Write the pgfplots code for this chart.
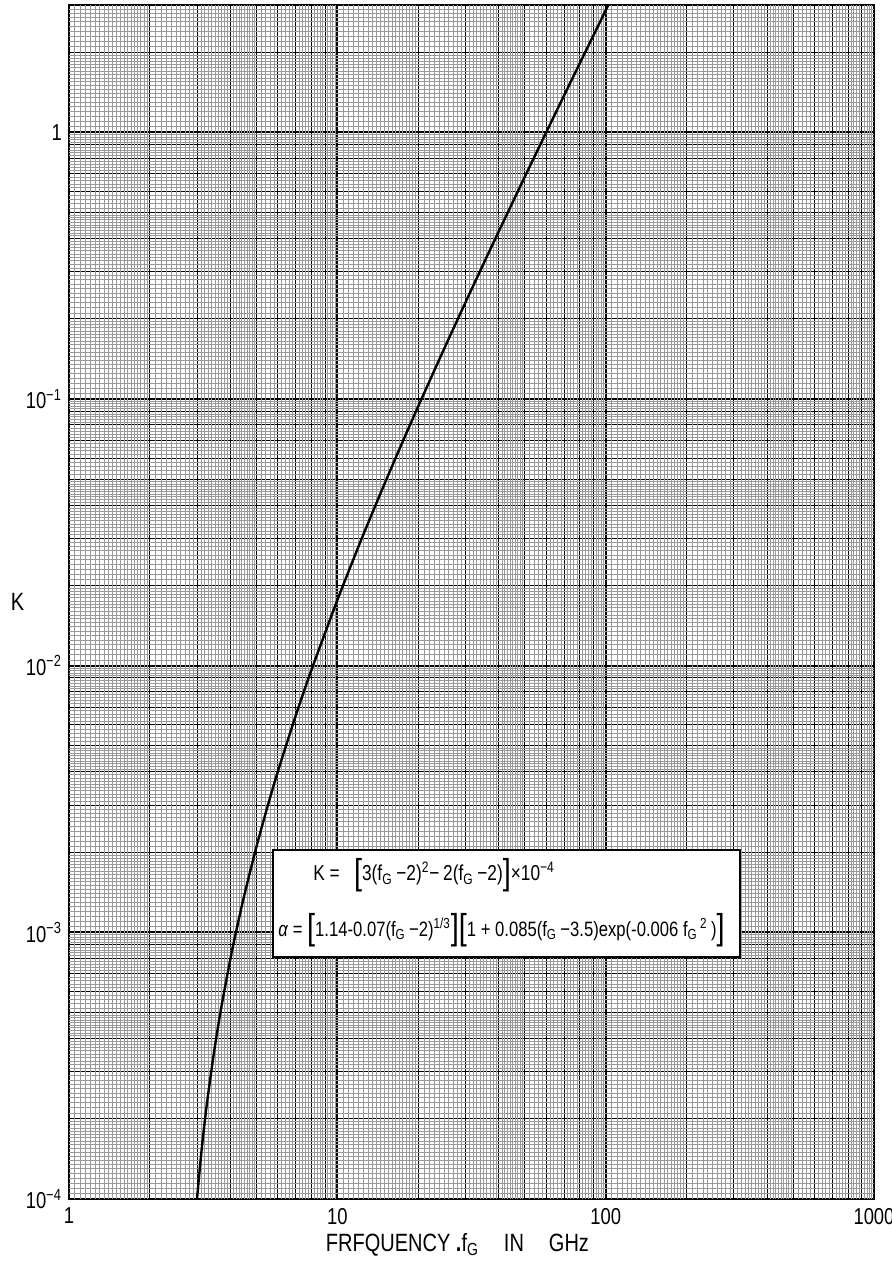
\documentclass[border=0pt]{standalone}
\usepackage{fontspec}
\setmainfont{Liberation Sans}[FakeStretch=0.8]
\usepackage{pgfplots}
\pgfplotsset{compat=1.18}

% fine rulings of the log paper (mantissas between the integer lines)
\def\mants{1.05,1.1,1.15,1.2,1.25,1.3,1.35,1.4,1.45,1.5,1.55,1.6,1.65,1.7,1.75,1.8,1.85,1.9,1.95,2.1,2.2,2.3,2.4,2.5,2.6,2.7,2.8,2.9,3.1,3.2,3.3,3.4,3.5,3.6,3.7,3.8,3.9,4.1,4.2,4.3,4.4,4.5,4.6,4.7,4.8,4.9,5.2,5.4,5.6,5.8,6.2,6.4,6.6,6.8,7.2,7.4,7.6,7.8,8.2,8.4,8.6,8.8,9.2,9.4,9.6,9.8}
\def\finex{1.05}
\foreach \e in {0,1,2}{\foreach \m in \mants{\xdef\finex{\finex,\m e\e}}}
\def\finey{1.05e-4}
\foreach \e in {-4,-3,-2,-1,0}{\foreach \m in \mants{\xdef\finey{\finey,\m e\e}}}
\edef\tmp{\noexpand\pgfplotsset{fine rulings/.style={extra x ticks={\finex}, extra y ticks={\finey}}}}
\tmp

\newcommand\bbr[1]{\raisebox{-0.3ex}{\fontsize{18}{18}\selectfont #1}}
\newcommand\fG{f\textsubscript{G}}

\begin{document}
\begin{tikzpicture}
\path[use as bounding box] (-34.5pt,-32.5pt) rectangle (411.5pt,599.5pt);
\begin{axis}[
  at={(0,0)}, anchor=south west,
  scale only axis, width=402.5pt, height=597pt,
  xmode=log, ymode=log,
  xmin=1, xmax=1000, ymin=1e-4, ymax=3,
  axis line style={line width=1pt},
  xtick={1,10,100,1000},
  xticklabels={1,10,100,1000},
  ytick={1e-4,1e-3,1e-2,1e-1,1},
  yticklabels={10\textsuperscript{−4},10\textsuperscript{−3},10\textsuperscript{−2},10\textsuperscript{−1},1},
  minor xtick={2,3,4,5,6,7,8,9,20,30,40,50,60,70,80,90,200,300,400,500,600,700,800,900},
  minor ytick={2e-4,3e-4,4e-4,5e-4,6e-4,7e-4,8e-4,9e-4,2e-3,3e-3,4e-3,5e-3,6e-3,7e-3,8e-3,9e-3,2e-2,3e-2,4e-2,5e-2,6e-2,7e-2,8e-2,9e-2,0.2,0.3,0.4,0.5,0.6,0.7,0.8,0.9,2},
  fine rulings,
  extra x tick labels={},
  extra y tick labels={},
  extra tick style={grid=major, major grid style={black!40, line width=0.2pt}},
  grid=both,
  major grid style={black, line width=0.9pt},
  minor grid style={black, line width=0.45pt},
  major tick length=0pt, minor tick length=0pt,
  tick label style={font=\fontsize{11.5}{13}\selectfont},
  xticklabel style={yshift=-1pt},
  xlabel={FRFQUENCY {\bfseries .}\fG\quad IN\quad GHz},
  ylabel={K},
  every axis x label/.style={at={(axis description cs:0.5,0)}, anchor=center, yshift=-23pt, xshift=-7pt, font=\fontsize{12.5}{14}\selectfont},
  every axis y label/.style={at={(axis description cs:0,0.5)}, anchor=center, xshift=-25.75pt, font=\fontsize{12.5}{14}\selectfont},
]
\addplot [black, line width=1.2pt, smooth] coordinates {
(2.95,0.8075e-4) (3,1.0e-4) (3.1,1.43e-4) (3.2,1.92e-4) (3.3,2.47e-4) (3.5,3.75e-4)
(3.7,5.27e-4) (4,8.0e-4) (4.2,1.012e-3) (4.5,1.375e-3) (5,2.1e-3) (5.5,2.975e-3)
(6,4.0e-3) (7,6.5e-3) (8,9.6e-3) (10,1.76e-2) (12,2.8e-2) (13,3.41e-2) (15,4.81e-2)
(17,6.45e-2) (20,9.36e-2) (25,0.1541) (30,0.2296) (35,0.3201) (40,0.4256) (50,0.6816)
(60,0.9976) (70,1.3736) (80,1.8096) (90,2.3056) (100,2.8616) (103,3.04)
};
\draw[fill=white, line width=0.6pt] (axis description cs:0.2534,0.2027) rectangle (axis description cs:0.8335,0.2923);
\node[anchor=west, inner sep=0pt, font=\fontsize{10.8}{12}\selectfont] at (axis description cs:0.303,0.2714)
  {K =\ \ \ \bbr{[}3(\fG\,−2)\textsuperscript{2}−\,2(\fG\,−2)\bbr{]}×10\textsuperscript{−4}};
\node[anchor=west, inner sep=0pt, font=\fontsize{10.4}{12}\selectfont] at (axis description cs:0.2596,0.2253)
  {\textit{α} = \bbr{[}1.14-0.07(\fG\,−2)\textsuperscript{1/3}\bbr{]}\bbr{[}1 + 0.085(\fG\,−3.5)exp(-0.006 \fG\textsuperscript{\,2}\,)\bbr{]}};
\end{axis}
\end{tikzpicture}
\end{document}
